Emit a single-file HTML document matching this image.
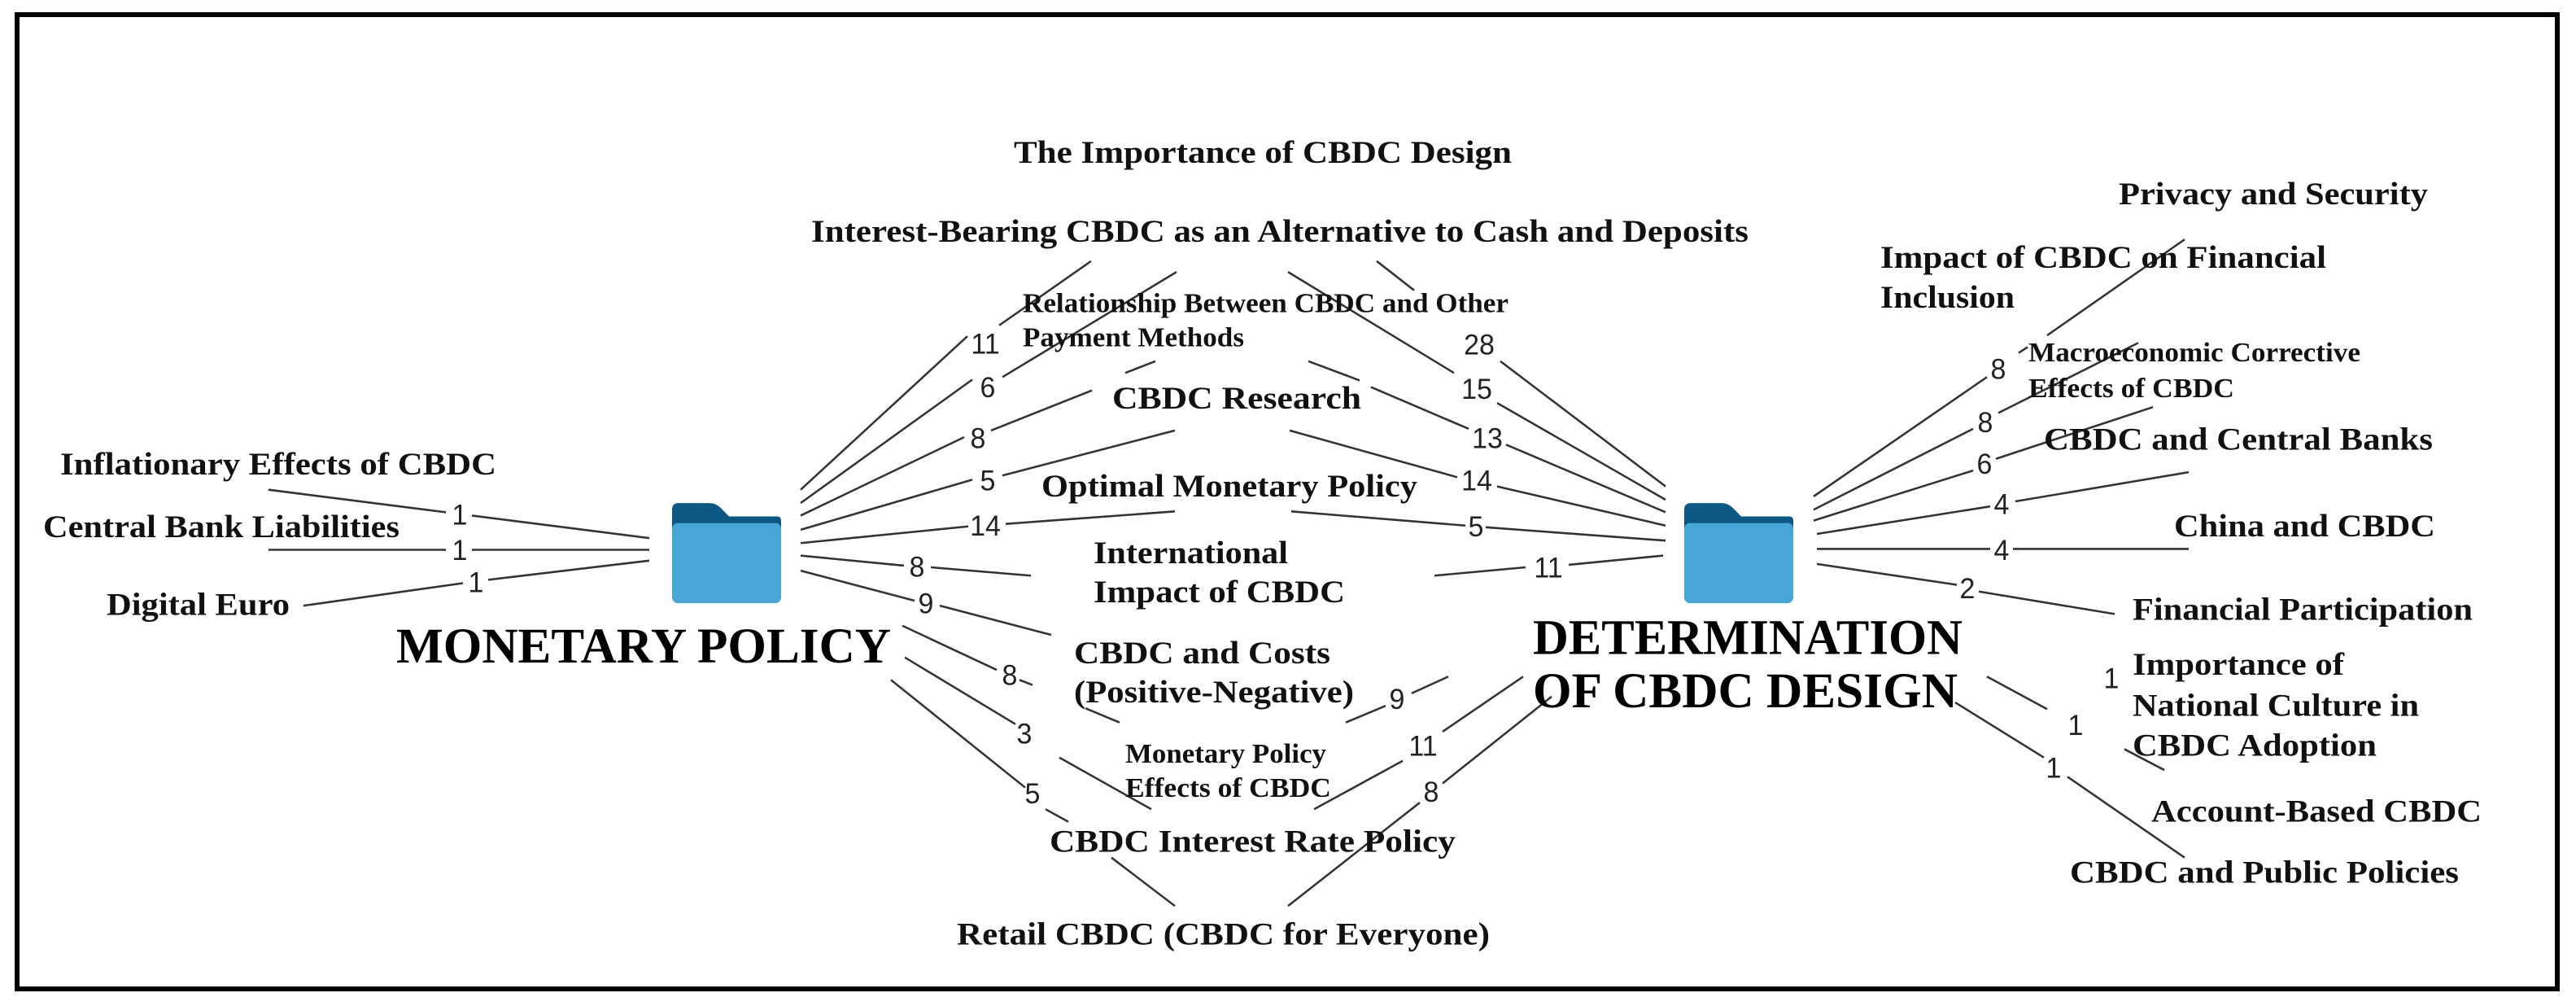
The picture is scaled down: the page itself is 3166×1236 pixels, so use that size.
<!DOCTYPE html>
<html><head><meta charset="utf-8"><style>
html,body{margin:0;padding:0;background:#fff;}
svg{display:block;}
text{font-family:"Liberation Serif",serif;font-weight:bold;fill:#111;}
.n text{font-family:"Liberation Sans",sans-serif;font-weight:normal;font-size:34px;fill:#222;text-anchor:middle;}
.s text{font-size:33px;}
.m text{font-size:38px;}
.b text{font-size:60px;fill:#000;}
</style></head><body>
<svg width="3166" height="1236" viewBox="0 0 3166 1236" xmlns="http://www.w3.org/2000/svg">
<rect x="0" y="0" width="3166" height="1236" fill="#fff"/>
<rect x="21" y="18" width="3122" height="1197" fill="none" stroke="#000" stroke-width="6"/>
<g transform="scale(1,1.025)">
<g stroke="#333" stroke-width="2.5" fill="none">
<path d="M330 587L548 614M580 618L798 645M330 659L548 659M580 659L798 659M373 726L569 699M600 695L798 672"/>
<path d="M984 587L1189 403M1228 390L1341 313"/>
<path d="M984 603L1195 455M1232 452L1446 326"/>
<path d="M984 618L1185 524M1218 516L1342 468M1383 447L1420 433"/>
<path d="M984 635L1195 575M1232 570L1444 516"/>
<path d="M984 651L1190 631M1236 628L1444 613"/>
<path d="M984 666L1111 678M1144 680L1267 690"/>
<path d="M984 684L1124 720M1155 726L1292 761"/>
<path d="M1109 750L1225 803M1253 815L1269 821M1334 849L1376 866"/>
<path d="M1112 788L1248 868M1302 908L1415 970"/>
<path d="M1095 815L1260 944M1285 970L1313 985M1366 1028L1444 1086"/>
<path d="M1692 313L1738 348M1844 433L2047 583"/>
<path d="M1583 326L1787 447M1840 483L2047 599"/>
<path d="M1608 433L1671 456M1685 464L1805 514M1851 533L2047 614"/>
<path d="M1585 516L1791 572M1840 583L2047 630"/>
<path d="M1587 613L1801 630M1826 632L2047 648"/>
<path d="M1763 690L1875 680M1928 677L2044 666"/>
<path d="M1654 866L1703 846M1735 831L1780 811"/>
<path d="M1615 970L1724 912M1773 877L1872 811"/>
<path d="M1583 1086L1745 962M1773 939L1907 835"/>
<path d="M2229 595L2442 452M2481 423L2492 416M2516 402L2685 287"/>
<path d="M2229 611L2425 514M2456 495L2628 411"/>
<path d="M2229 624L2425 564M2453 550L2646 488"/>
<path d="M2233 640L2446 607M2477 601L2690 566"/>
<path d="M2233 658L2446 658M2474 658L2690 658"/>
<path d="M2233 676L2405 701M2432 709L2599 736"/>
<path d="M2442 811L2516 850M2611 898L2660 923"/>
<path d="M2403 842L2512 908M2541 931L2685 1028"/>
</g>
<g>
<path d="M834 603H872Q880 603 886 609L896 619H955Q960 619 960 624V640H826V611Q826 603 834 603Z" fill="#0d5784"/>
<rect x="826" y="627" width="134" height="96" rx="7" fill="#47a6d6"/>
</g>
<g transform="translate(1244,0)">
<path d="M834 603H872Q880 603 886 609L896 619H955Q960 619 960 624V640H826V611Q826 603 834 603Z" fill="#0d5784"/>
<rect x="826" y="627" width="134" height="96" rx="7" fill="#47a6d6"/>
</g>
<g class="n">
<text x="565" y="629">1</text><text x="565" y="671">1</text><text x="585" y="710">1</text>
<text x="1211" y="424">11</text><text x="1214" y="476">6</text><text x="1202" y="537">8</text><text x="1214" y="588">5</text><text x="1211" y="642">14</text><text x="1127" y="691">8</text><text x="1138" y="735">9</text><text x="1241" y="821">8</text><text x="1259" y="891">3</text><text x="1269" y="963">5</text>
<text x="1818" y="425">28</text><text x="1815" y="478">15</text><text x="1828" y="537">13</text><text x="1815" y="588">14</text><text x="1814" y="643">5</text><text x="1903" y="692">11</text><text x="1717" y="850">9</text><text x="1749" y="906">11</text><text x="1759" y="961">8</text>
<text x="2456" y="454">8</text><text x="2440" y="518">8</text><text x="2439" y="568">6</text><text x="2460" y="616">4</text><text x="2460" y="671">4</text><text x="2418" y="717">2</text><text x="2551" y="881">1</text><text x="2524" y="932">1</text><text x="2595" y="825">1</text>
</g>
<g class="m">
<text x="74" y="569" textLength="536" lengthAdjust="spacingAndGlyphs">Inflationary Effects of CBDC</text>
<text x="53" y="644" textLength="438" lengthAdjust="spacingAndGlyphs">Central Bank Liabilities</text>
<text x="131" y="737" textLength="225" lengthAdjust="spacingAndGlyphs">Digital Euro</text>
<text x="1246" y="195" textLength="612" lengthAdjust="spacingAndGlyphs">The Importance of CBDC Design</text>
<text x="997" y="290" textLength="1152" lengthAdjust="spacingAndGlyphs">Interest-Bearing CBDC as an Alternative to Cash and Deposits</text>
<text x="1367" y="490" textLength="306" lengthAdjust="spacingAndGlyphs">CBDC Research</text>
<text x="1280" y="595" textLength="462" lengthAdjust="spacingAndGlyphs">Optimal Monetary Policy</text>
<text x="1344" y="675" textLength="239" lengthAdjust="spacingAndGlyphs">International</text>
<text x="1344" y="722" textLength="309" lengthAdjust="spacingAndGlyphs">Impact of CBDC</text>
<text x="1320" y="795" textLength="315" lengthAdjust="spacingAndGlyphs">CBDC and Costs</text>
<text x="1320" y="842" textLength="344" lengthAdjust="spacingAndGlyphs">(Positive-Negative)</text>
<text x="1290" y="1021" textLength="499" lengthAdjust="spacingAndGlyphs">CBDC Interest Rate Policy</text>
<text x="1176" y="1132" textLength="655" lengthAdjust="spacingAndGlyphs">Retail CBDC (CBDC for Everyone)</text>
<text x="2604" y="245" textLength="380" lengthAdjust="spacingAndGlyphs">Privacy and Security</text>
<text x="2311" y="321" textLength="548" lengthAdjust="spacingAndGlyphs">Impact of CBDC on Financial</text>
<text x="2311" y="369" textLength="165" lengthAdjust="spacingAndGlyphs">Inclusion</text>
<text x="2512" y="539" textLength="478" lengthAdjust="spacingAndGlyphs">CBDC and Central Banks</text>
<text x="2672" y="643" textLength="321" lengthAdjust="spacingAndGlyphs">China and CBDC</text>
<text x="2621" y="743" textLength="418" lengthAdjust="spacingAndGlyphs">Financial Participation</text>
<text x="2621" y="809" textLength="260" lengthAdjust="spacingAndGlyphs">Importance of</text>
<text x="2621" y="858" textLength="352" lengthAdjust="spacingAndGlyphs">National Culture in</text>
<text x="2621" y="906" textLength="300" lengthAdjust="spacingAndGlyphs">CBDC Adoption</text>
<text x="2644" y="985" textLength="406" lengthAdjust="spacingAndGlyphs">Account-Based CBDC</text>
<text x="2544" y="1058" textLength="478" lengthAdjust="spacingAndGlyphs">CBDC and Public Policies</text>
</g>
<g class="s">
<text x="1257" y="374" textLength="597" lengthAdjust="spacingAndGlyphs">Relationship Between CBDC and Other</text>
<text x="1257" y="415" textLength="272" lengthAdjust="spacingAndGlyphs">Payment Methods</text>
<text x="1383" y="914" textLength="247" lengthAdjust="spacingAndGlyphs">Monetary Policy</text>
<text x="1383" y="955" textLength="253" lengthAdjust="spacingAndGlyphs">Effects of CBDC</text>
<text x="2493" y="433" textLength="408" lengthAdjust="spacingAndGlyphs">Macroeconomic Corrective</text>
<text x="2493" y="476" textLength="253" lengthAdjust="spacingAndGlyphs">Effects of CBDC</text>
</g>
<g class="b">
<text x="487" y="794" textLength="608" lengthAdjust="spacingAndGlyphs">MONETARY POLICY</text>
<text x="1884" y="784" textLength="528" lengthAdjust="spacingAndGlyphs">DETERMINATION</text>
<text x="1884" y="848" textLength="522" lengthAdjust="spacingAndGlyphs">OF CBDC DESIGN</text>
</g>
</g>
</svg>
</body></html>
